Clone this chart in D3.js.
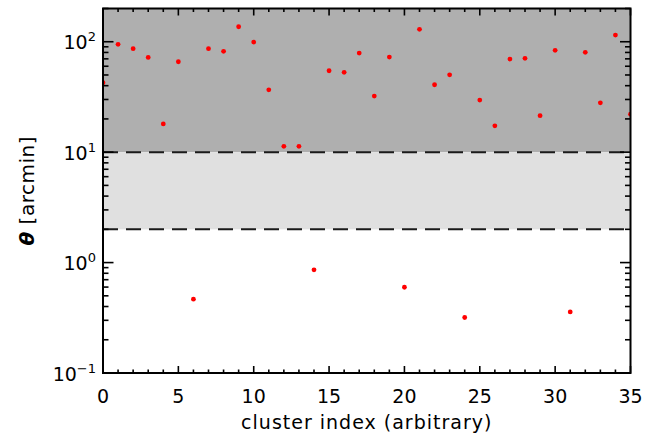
<!DOCTYPE html>
<html><head><meta charset="utf-8">
<script src="https://cdn.jsdelivr.net/npm/d3@7"></script>
<style>body{margin:0;background:#fff}svg{display:block}text{font-family:"DejaVu Sans",sans-serif;fill:#000}</style>
</head><body>
<svg id="c" width="664" height="439"></svg>
<script>
const clusterIndex = [0,1,2,3,4,5,6,7,8,9,10,11,12,13,14,15,16,17,18,19,20,21,22,23,24,25,26,27,28,29,30,31,32,33,34,35];
const thetaArcmin = [42.5,94.7,86.5,72.1,18.0,65.9,0.466,86.5,81.8,136.7,99.4,36.7,11.3,11.3,0.859,54.6,52.8,79.0,32.2,72.7,0.598,129.5,40.8,50.2,0.318,29.6,17.3,69.7,70.8,21.4,83.6,0.357,80.2,28.0,115,22.1];
const xDomain = [0, 35];
const yDomain = [0.1, 200];
const xMajorTicks = [0,5,10,15,20,25,30,35];
const yMajorTicks = [0.1, 1, 10, 100];
const yTickExp = ["\u22121","0","1","2"];
const bandEdges = [2, 10];
const xTitle = "cluster index (arbitrary)";
const yTitleSym = "\u03b8";
const yTitleRest = " [arcmin]";

const svg = d3.select("#c");
const L = 103, R = 630.5, T = 8.5, B = 373;
const x = d3.scaleLinear().domain(xDomain).range([L, R]);
const y = d3.scaleLog().domain(yDomain).range([B, T]);

svg.append("defs").append("clipPath").attr("id","clip")
  .append("rect").attr("x",L).attr("y",T).attr("width",R-L).attr("height",B-T);

// bands
svg.append("rect").attr("x",L).attr("width",R-L)
  .attr("y",y(yDomain[1])).attr("height",y(bandEdges[1])-y(yDomain[1])).attr("fill","#afafaf");
svg.append("rect").attr("x",L).attr("width",R-L)
  .attr("y",y(bandEdges[1])).attr("height",y(bandEdges[0])-y(bandEdges[1])).attr("fill","#e0e0e0");

// dashed lines
svg.selectAll("line.dash").data(bandEdges).join("line").attr("class","dash")
  .attr("x1",L).attr("x2",R).attr("y1",d=>y(d)).attr("y2",d=>y(d))
  .attr("stroke","#1a1a1a").attr("stroke-width",2).attr("stroke-dasharray","15,8");

// points
svg.append("g").attr("clip-path","url(#clip)").selectAll("circle")
  .data(clusterIndex).join("circle")
  .attr("cx",(d)=>x(d)).attr("cy",(d,i)=>y(thetaArcmin[i])).attr("r",2.4).attr("fill","#ff0000");

// axes ticks
const g = svg.append("g").attr("stroke","#000");
const xMinor = d3.range(xDomain[0], xDomain[1]+1);
xMinor.forEach(v=>{
  const major = xMajorTicks.includes(v);
  const len = major ? 7 : 3.5;
  g.append("line").attr("x1",x(v)).attr("x2",x(v)).attr("y1",B).attr("y2",B-len).attr("stroke-width",1.6);
  g.append("line").attr("x1",x(v)).attr("x2",x(v)).attr("y1",T).attr("y2",T+len).attr("stroke-width",1.6);
});
const yTicksAll = y.ticks(20).filter(v=>v>=yDomain[0] && v<=yDomain[1]);
yTicksAll.forEach(v=>{
  const major = yMajorTicks.some(m=>Math.abs(m-v)/m<1e-6);
  const len = major ? 10.5 : 5.5;
  g.append("line").attr("y1",y(v)).attr("y2",y(v)).attr("x1",L).attr("x2",L+len).attr("stroke-width",1.6);
  g.append("line").attr("y1",y(v)).attr("y2",y(v)).attr("x1",R).attr("x2",R-len).attr("stroke-width",1.6);
});
// frame
svg.append("rect").attr("x",L).attr("y",T).attr("width",R-L).attr("height",B-T)
  .attr("fill","none").attr("stroke","#000").attr("stroke-width",2);

// x tick labels
svg.selectAll("text.xt").data(xMajorTicks).join("text").attr("class","xt")
  .attr("x",d=>x(d)).attr("y",403).attr("text-anchor","middle").attr("font-size",19).text(d=>d);

// y tick labels
yMajorTicks.forEach((v,i)=>{
  const t = svg.append("text").attr("x",96).attr("y",y(v)+7.5).attr("text-anchor","end").attr("font-size",19);
  t.append("tspan").text("10");
  t.append("tspan").attr("dy",-8).attr("font-size",13).text(yTickExp[i]);
});

// titles
svg.append("text").attr("x",(L+R)/2).attr("y",429).attr("text-anchor","middle")
  .attr("font-size",19).attr("letter-spacing",1).text(xTitle);
const yt = svg.append("text").attr("transform",`translate(34,${(T+B)/2}) rotate(-90)`)
  .attr("text-anchor","middle").attr("font-size",20).attr("letter-spacing",0.5);
yt.append("tspan").attr("font-weight","bold").attr("font-style","italic").text(yTitleSym);
yt.append("tspan").text(yTitleRest);
</script>
</body></html>
